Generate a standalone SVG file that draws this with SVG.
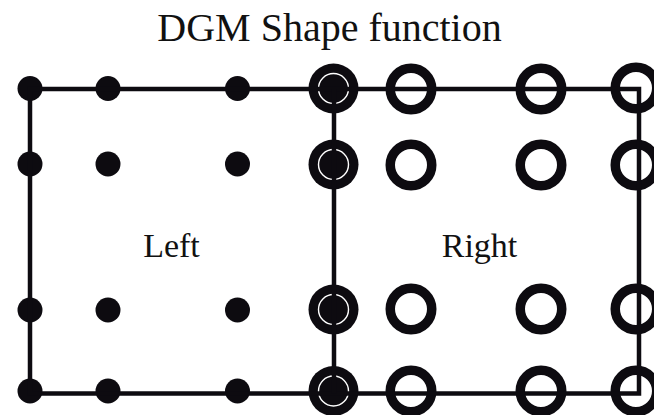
<svg xmlns="http://www.w3.org/2000/svg" width="654" height="415" viewBox="0 0 654 415">
<style>
text{font-family:"Liberation Serif","Times New Roman",serif;fill:#111;text-anchor:middle}
.dot{fill:#0d0b10}
.ring{fill:none;stroke:#0d0b10;stroke-width:9.5}
.both{fill:#0d0b10}
.gap{fill:none;stroke:#fff;stroke-width:1.4}
.edge{fill:none;stroke:#0d0b10;stroke-width:4.5;stroke-linejoin:miter;stroke-linecap:butt}
</style>
<rect width="654" height="415" fill="#fff"/>
<text x="329.5" y="41" font-size="40">DGM Shape function</text>
<g id="left-element">
<circle class="dot" cx="30" cy="88.5" r="12.5"/>
<circle class="dot" cx="108" cy="88.5" r="12.5"/>
<circle class="dot" cx="237.5" cy="88.5" r="12.5"/>
<circle class="dot" cx="30" cy="164" r="12.5"/>
<circle class="dot" cx="108" cy="164" r="12.5"/>
<circle class="dot" cx="237.5" cy="164" r="12.5"/>
<circle class="dot" cx="30" cy="310" r="12.5"/>
<circle class="dot" cx="108" cy="310" r="12.5"/>
<circle class="dot" cx="237.5" cy="310" r="12.5"/>
<circle class="dot" cx="30" cy="391" r="12.5"/>
<circle class="dot" cx="108" cy="391" r="12.5"/>
<circle class="dot" cx="237.5" cy="391" r="12.5"/>
<text x="171.5" y="257" font-size="34">Left</text>
</g>
<g id="right-element">
<circle class="ring" cx="411" cy="89" r="20.75"/>
<circle class="ring" cx="541" cy="89" r="20.75"/>
<circle class="ring" cx="636" cy="88" r="20.75"/>
<circle class="ring" cx="411" cy="165" r="20.75"/>
<circle class="ring" cx="541" cy="165" r="20.75"/>
<circle class="ring" cx="636" cy="165" r="20.75"/>
<circle class="ring" cx="411" cy="309" r="20.75"/>
<circle class="ring" cx="541" cy="309" r="20.75"/>
<circle class="ring" cx="636" cy="309" r="20.75"/>
<circle class="ring" cx="411" cy="391" r="20.75"/>
<circle class="ring" cx="541" cy="391" r="20.75"/>
<circle class="ring" cx="636" cy="391" r="20.75"/>
<text x="479.5" y="257" font-size="34">Right</text>
</g>
<g id="shared-nodes">
<circle class="both" cx="333.5" cy="88.5" r="25"/>
<circle class="gap" cx="333.5" cy="88.5" r="15"/>
<circle class="both" cx="333.5" cy="164.5" r="25"/>
<circle class="gap" cx="333.5" cy="164.5" r="15"/>
<circle class="both" cx="333.5" cy="309.5" r="25"/>
<circle class="gap" cx="333.5" cy="309.5" r="15"/>
<circle class="both" cx="333.5" cy="391" r="25"/>
<circle class="gap" cx="333.5" cy="391" r="15"/>
</g>
<g id="connectors">
<path class="edge" d="M30 89 H639 V393.5 H30 Z"/>
<path class="edge" d="M334 89 V393.5"/>
</g>
</svg>
